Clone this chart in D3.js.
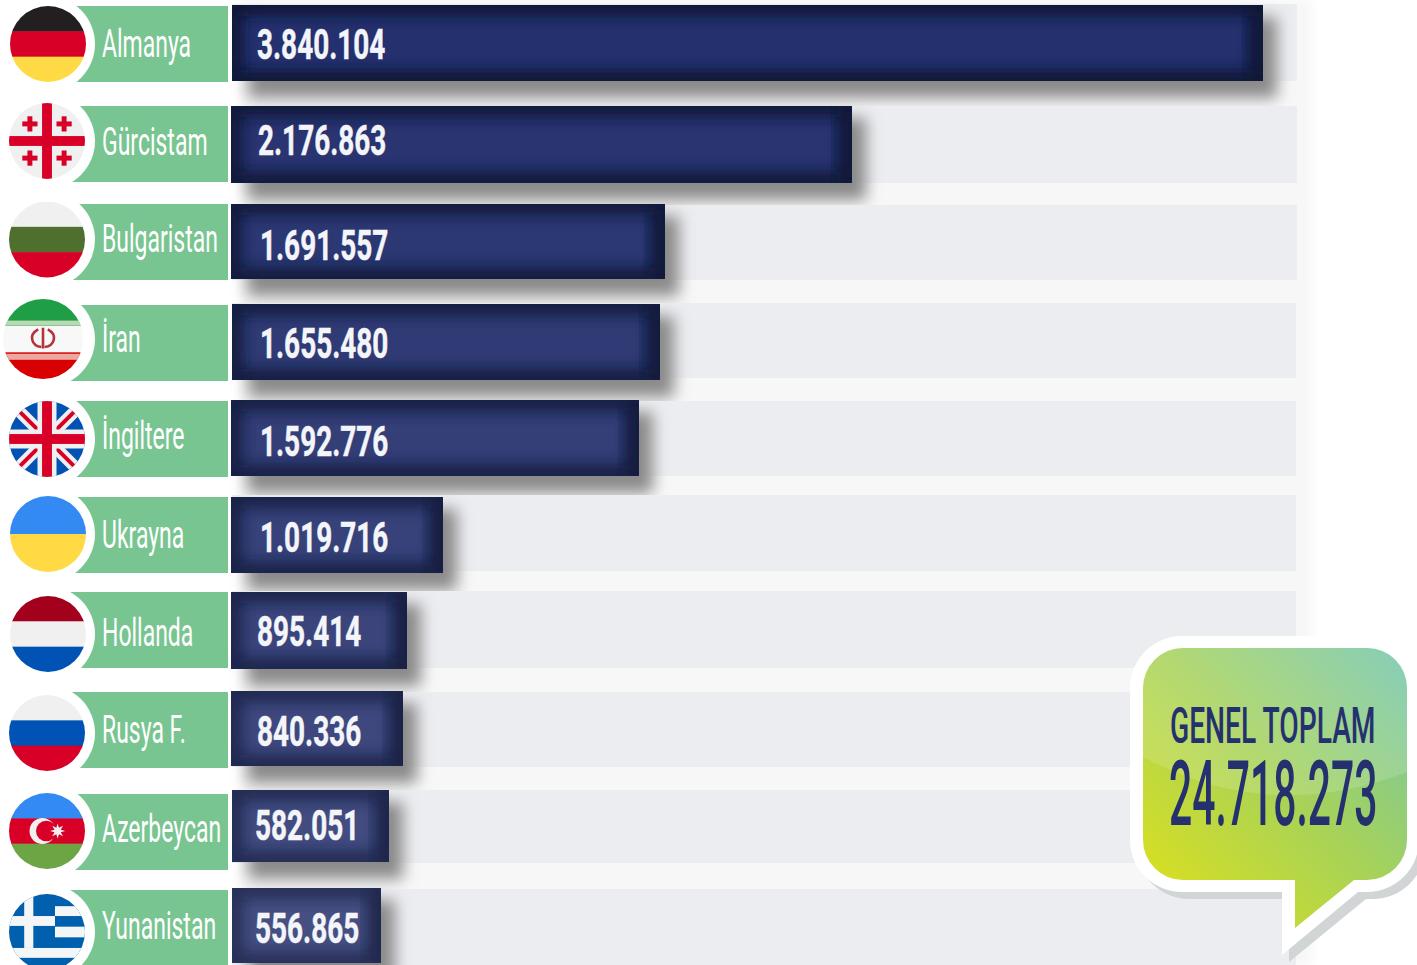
<!DOCTYPE html>
<html><head><meta charset="utf-8">
<script src="https://cdn.jsdelivr.net/npm/d3@7/dist/d3.min.js"></script>
<style>html,body{margin:0;padding:0;background:#fff;overflow:hidden}svg{display:block}text{font-family:Roboto,"Liberation Sans",sans-serif}</style>
</head><body><div id="c"></div>
<script>
const categories = ["Almanya","Gürcistam","Bulgaristan","İran","İngiltere","Ukrayna","Hollanda","Rusya F.","Azerbeycan","Yunanistan"];
const values = [3840104,2176863,1691557,1655480,1592776,1019716,895414,840336,582051,556865];
const valueLabels = ["3.840.104","2.176.863","1.691.557","1.655.480","1.592.776","1.019.716","895.414","840.336","582.051","556.865"];
const totalTitle = "GENEL TOPLAM";
const totalValue = "24.718.273";
const flagStripes = [
  ["#231f20","#d80027","#ffda44"],["#f0f0f0"],["#f0f0f0","#4f6f2f","#d80027"],["#1f9e45","#f8f8f8","#d80000"],["#0052b4"],
  ["#338af3","#ffda44"],["#a2001d","#f0f0f0","#0052b4"],["#f0f0f0","#0052b4","#d80027"],["#338af3","#d80027","#6da544"],["#0060ad"]
];

const W=1417,H=965;
const svg=d3.select("#c").append("svg").attr("width",W).attr("height",H).attr("viewBox",`0 0 ${W} ${H}`);
const defs=svg.append("defs");

// the picture's bars are not proportional: a piecewise scale reproduces its length for each value
const x=d3.scaleLinear()
  .domain([0,556865,582051,840336,895414,1019716,1592776,1655480,1691557,2176863,3840104])
  .range([231,381,389,403,407,443,639,660,665,852,1263]);
const rowTop=d3.scaleOrdinal(categories,[5,106,204,304,400,497,592,691,790,888]);
const rowBot=d3.scaleOrdinal(categories,[81,183,279,380,476,573,669,766,862,963]);
const barLeft=d3.scaleOrdinal(categories,[232,231,231,232,231,231,231,231,232,232]);
const trackTop=d3.scaleOrdinal(categories,[4,106,205,303,401,495,591,692,790,889]);
const trackBot=d3.scaleOrdinal(categories,[81,183,280,378,476,571,668,767,863,965]);
const greenTop=d3.scaleOrdinal(categories,[6,106,204,305,401,497,592,692,794,890]);
const flagY=d3.scaleOrdinal(categories,[44,141,239.5,339,439,534,634,733,831,932]);
const flagX=d3.scaleOrdinal(categories,[48,47,47,43,47,48,48,47,47,47]);
const flagR=d3.scaleOrdinal(categories,[38,38,38,40,38,38,38,38,38,38]);
const labelY=d3.scaleOrdinal(categories,[57,155,252,352,449,548,646,743,842,939]);
const valueY=d3.scaleOrdinal(categories,[59,155,260,358,456,552,646,746,840,943]);
const valueX=d3.scaleOrdinal(categories,[257,258,260,260,260,260,257,257,255,255]);
const barColor=d3.scaleLinear().domain([0,9]).range(["#25316f","#464f82"]);
const edgeOpacity=d3.scaleLinear().domain([0,9]).range([0.95,0.55]);

function blur(id,s){defs.append("filter").attr("id",id).attr("x","-25%").attr("y","-50%").attr("width","150%").attr("height","200%")
  .append("feGaussianBlur").attr("stdDeviation",s);}
blur("b4",4.5);blur("b6",9);blur("b5",7);blur("bs",7.5);

// halo behind tracks
svg.append("rect").attr("x",240).attr("y",0).attr("width",1072).attr("height",H).attr("fill","#f7f7f7").attr("filter","url(#b4)");

const rows=svg.selectAll("g.row").data(categories).join("g").attr("class","row");
rows.each(function(name,i){
  const g=d3.select(this), t=rowTop(name), b=rowBot(name), l=barLeft(name), r=x(values[i]);
  // track
  g.append("rect").attr("x",232).attr("y",trackTop(name)).attr("width",i>2?1064:1065).attr("height",trackBot(name)-trackTop(name)).attr("fill","#ecedf1");
  // shadow
  g.append("rect").attr("x",l+16).attr("y",t+12).attr("width",r-l-2).attr("height",b-t+5).attr("fill","#8b8a8a").attr("filter","url(#bs)");
  // bar
  const cid="clip"+i;
  defs.append("clipPath").attr("id",cid).append("rect").attr("x",l).attr("y",t).attr("width",r-l).attr("height",b-t);
  g.append("rect").attr("x",l).attr("y",t).attr("width",r-l).attr("height",b-t).attr("fill",barColor(i));
  const e=g.append("g").attr("clip-path",`url(#${cid})`);
  e.append("rect").attr("x",l).attr("y",t).attr("width",r-l).attr("height",b-t).attr("fill","none").attr("stroke","#0c1236").attr("stroke-width",22).attr("opacity",edgeOpacity(i)).attr("filter","url(#b5)");
  e.append("rect").attr("x",r-14).attr("y",t).attr("width",26).attr("height",b-t).attr("fill","#0c1236").attr("opacity",edgeOpacity(i)*.7).attr("filter","url(#b6)");
  // value
  g.append("text").attr("transform",`translate(${valueX(name)},${valueY(name)}) scale(.665,1)`).attr("font-size",42).attr("font-weight",700).attr("stroke","#f4f5f9").attr("stroke-width",.5).attr("fill","#f4f5f9").text(valueLabels[i]);
  // green label
  g.append("rect").attr("x",flagX(name)).attr("y",greenTop(name)).attr("width",228-flagX(name)).attr("height",76).attr("fill","#78c591");
});

function unitFlag(g,name,i,R){
  const s=flagStripes[i], n=s.length;
  s.forEach((c,k)=>g.append("rect").attr("x",-R).attr("y",-R+2*R*k/n).attr("width",2*R).attr("height",2*R/n+.5).attr("fill",c));
  const rr=(a,b,w,h,c)=>g.append("rect").attr("x",a*R).attr("y",b*R).attr("width",w*R).attr("height",h*R).attr("fill",c);
  if(name==="Gürcistam"){
    rr(-.13,-1,.26,2,"#d80027");rr(-1,-.13,2,.26,"#d80027");
    [[-.45,-.45],[.45,-.45],[-.45,.45],[.45,.45]].forEach(([a,b])=>{rr(a-.2,b-.065,.4,.13,"#d80027");rr(a-.065,b-.2,.13,.4,"#d80027");});
  }
  if(name==="İran"){
    rr(-1,-.46,2,.12,"#b9d8b4");rr(-1,.37,2,.15,"#eba8a0");
    const arc=d=>g.append("path").attr("d",d).attr("fill","none").attr("stroke","#b5323a").attr("stroke-width",2.6);
    arc(`M${-.12*R},${-.24*R}C${-.38*R},${-.1*R} ${-.28*R},${.18*R} ${-.04*R},${.2*R}`);
    arc(`M${.12*R},${-.24*R}C${.38*R},${-.1*R} ${.28*R},${.18*R} ${.04*R},${.2*R}`);
    arc(`M0,${-.28*R}V${.24*R}`);
  }
  if(name==="İngiltere"){
    const line=(x1,y1,x2,y2,c,w)=>g.append("line").attr("x1",x1*R).attr("y1",y1*R).attr("x2",x2*R).attr("y2",y2*R).attr("stroke",c).attr("stroke-width",w);
    line(-1,-1,1,1,"#f0f0f0",12);line(-1,1,1,-1,"#f0f0f0",12);
    line(-1,-1,1,1,"#d80027",4);line(-1,1,1,-1,"#d80027",4);
    rr(-.25,-1,.5,2,"#f0f0f0");rr(-1,-.25,2,.5,"#f0f0f0");
    rr(-.13,-1,.26,2,"#d80027");rr(-1,-.13,2,.26,"#d80027");
  }
  if(name==="Azerbeycan"){
    g.append("circle").attr("cx",-.12*R).attr("cy",0).attr("r",.34*R).attr("fill","#f0f0f0");
    g.append("circle").attr("cx",-.02*R).attr("cy",0).attr("r",.27*R).attr("fill","#d80027");
    const star=d3.range(16).map(k=>{const a=k*Math.PI/8,q=(k%2?.09:.2)*R;return [.28*R+q*Math.sin(a),-q*Math.cos(a)];});
    g.append("polygon").attr("points",star.join(" ")).attr("fill","#f0f0f0");
  }
  if(name==="Yunanistan"){
    const w="#f4f5f7";
    rr(.21,-.68,.8,.26,w);rr(.21,-.14,.8,.28,w);rr(-1,.42,2,.26,w);
    rr(-.6,-1,.24,1.42,w);rr(-1,-.42,1.21,.26,w);
  }
}
rows.each(function(name,i){
  const g=d3.select(this), cx=flagX(name), cy=flagY(name), R=flagR(name);
  g.append("circle").attr("cx",47).attr("cy",cy).attr("r",48).attr("fill","#fff");
  defs.append("clipPath").attr("id","f"+i).append("circle").attr("r",R);
  const f=g.append("g").attr("transform",`translate(${cx},${cy})`).attr("clip-path",`url(#f${i})`);
  unitFlag(f,name,i,R);
  g.append("text").attr("transform",`translate(102,${labelY(name)}) scale(.605,1)`).attr("font-size",38).attr("fill","#fff").text(name);
});

// speech bubble
const grad=defs.append("linearGradient").attr("id","bub").attr("gradientUnits","userSpaceOnUse").attr("x1",1165).attr("y1",880).attr("x2",1395).attr("y2",660);
grad.append("stop").attr("offset",0).attr("stop-color","#d4de26");
grad.append("stop").attr("offset",.5).attr("stop-color","#a5d25a");
grad.append("stop").attr("offset",1).attr("stop-color","#76c7a6");
const bubble=(l,t,rgt,bot,r,tl,tr,tipY)=>`M${l+r},${t}H${rgt-r}A${r},${r} 0 0 1 ${rgt},${t+r}V${bot-r}A${r},${r} 0 0 1 ${rgt-r},${bot}H${tr}L${tl},${tipY}V${bot}H${l+r}A${r},${r} 0 0 1 ${l},${bot-r}V${t+r}A${r},${r} 0 0 1 ${l+r},${t}Z`;
svg.append("path").attr("d",bubble(1137,720,1425,899,52,1289,1366,962)).attr("fill","#d1d5d6");
svg.append("path").attr("d",bubble(1130,636,1419,892,52,1282,1358,955)).attr("fill","#fff");
const bp=bubble(1143,648,1407,880,40,1295,1354,928);
svg.append("path").attr("d",bp).attr("fill","url(#bub)");
defs.append("clipPath").attr("id","bc").append("path").attr("d",bp);
svg.append("path").attr("clip-path","url(#bc)").attr("d","M1143,648H1407V772Q1270,825 1143,757Z").attr("fill","#fff").attr("opacity",.15);
svg.append("text").attr("transform","translate(1170,743) scale(.558,1)").attr("font-size",50.5).attr("font-weight",500).attr("fill","#25316f").text(totalTitle);
svg.append("text").attr("transform","translate(1169,825) scale(.449,1)").attr("font-size",91).attr("font-weight",500).attr("fill","#25316f").text(totalValue);
</script></body></html>
